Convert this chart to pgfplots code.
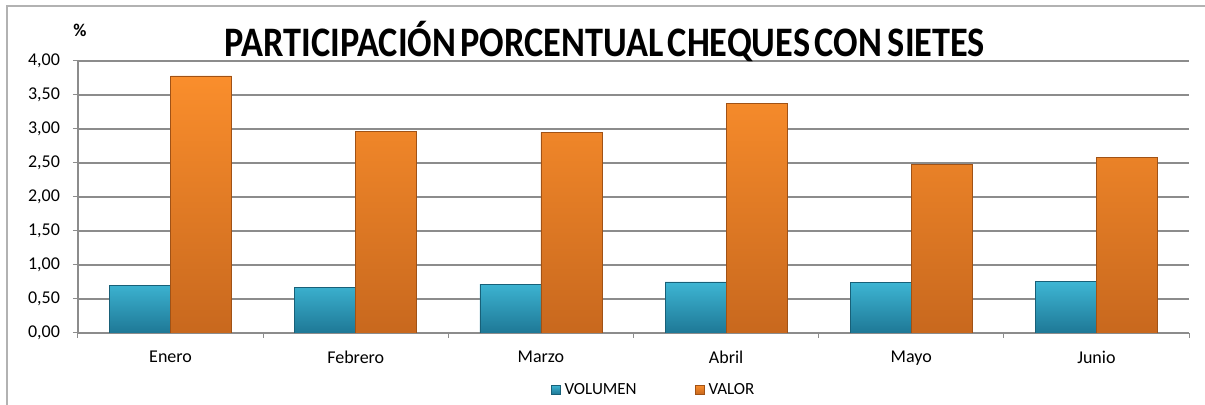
\documentclass[border=0pt]{standalone}
\usepackage{fontspec}
\setmainfont{Carlito}
\usepackage{pgfplots}
\pgfplotsset{compat=1.18}

\definecolor{volTop}{RGB}{62,182,212}
\definecolor{volBot}{RGB}{30,120,150}
\definecolor{volEdge}{RGB}{24,96,120}
\definecolor{valTop}{RGB}{250,142,44}
\definecolor{valBot}{RGB}{200,104,30}
\definecolor{valEdge}{RGB}{160,82,22}
\definecolor{gridc}{RGB}{140,140,140}

% monthly share of cheques with sevens, in %
\pgfplotstableread{
x volumen valor
0 0.70 3.78
1 0.67 2.97
2 0.72 2.95
3 0.75 3.37
4 0.74 2.48
5 0.76 2.58
}\datos

\begin{document}
\begin{tikzpicture}
% 1 px of the reference = 0.5pt
\useasboundingbox (0,0) rectangle (602.5pt,-202.5pt);
\draw[gray!60, line width=0.7pt] (3.5pt,-202.5pt) -- (3.5pt,-3pt) -- (602.5pt,-3pt);

\begin{axis}[
    at={(39pt,-166.5pt)},
    anchor=south west,
    scale only axis,
    width=555.5pt,
    height=136pt,
    ybar=0pt,
    bar width=30.5pt,
    xmin=-0.5, xmax=5.5,
    ymin=0, ymax=4,
    ytick={0,0.5,...,4},
    xtick={0,...,5},
    xticklabels={Enero,Febrero,Marzo,Abril,Mayo,Junio},
    minor xtick={-0.5,0.5,...,5.5},
    major x tick style={draw=none},
    tick align=outside,
    major tick length=2.5pt,
    minor tick length=2.5pt,
    tick style={gridc, line width=0.5pt},
    axis lines*=left,
    axis line style={gridc, line width=0.6pt},
    ymajorgrids=true,
    grid style={gridc, line width=0.6pt},
    /pgf/number format/.cd, fixed, fixed zerofill, precision=2, use comma, assume math mode=true,
    /pgfplots/.cd,
    yticklabel style={font=\fontsize{9}{10}\selectfont, xshift=-3pt},
    xticklabel style={font=\fontsize{9}{10}\selectfont, yshift=-3pt},
    legend style={at={(0.519,-0.21)}, anchor=center, draw=none, fill=none,
        font=\fontsize{8.5}{9}\selectfont, legend columns=2,
        /tikz/every even column/.append style={column sep=27pt}},
    legend image code/.code={\draw[#1] (0pt,-2pt) rectangle (4.5pt,2.5pt);},
]
\addplot[draw=volEdge, top color=volTop, bottom color=volBot, line width=0.4pt]
    table[x=x, y=volumen] {\datos};
\addlegendentry{VOLUMEN}
\addplot[draw=valEdge, top color=valTop, bottom color=valBot, line width=0.4pt]
    table[x=x, y=valor] {\datos};
\addlegendentry{VALOR}
\end{axis}

\node[font=\bfseries\fontsize{21}{23}\selectfont] at (302.5pt,-21pt)
    {\resizebox{380pt}{\height}{PARTICIPACIÓN\hspace{2.5pt}PORCENTUAL\hspace{2.5pt}CHEQUES\hspace{2.5pt}CON\hspace{3.5pt}SIETES}};
\node[font=\bfseries\fontsize{9}{10}\selectfont] at (40pt,-15pt) {\%};
\end{tikzpicture}
\end{document}
